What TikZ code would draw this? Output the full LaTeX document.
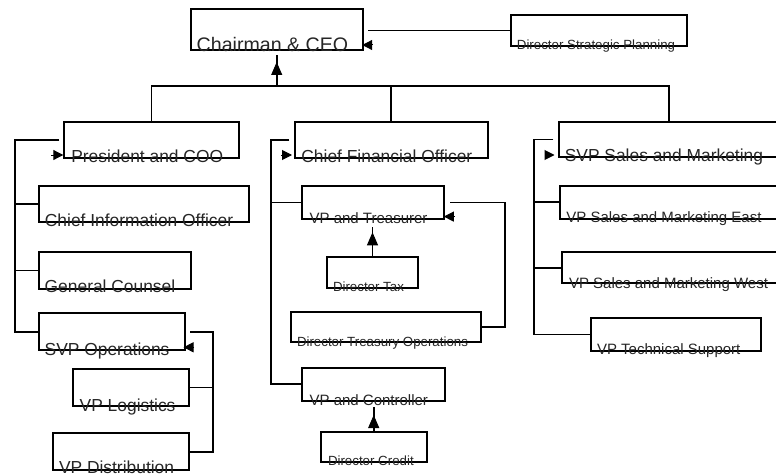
\documentclass[tikz,border=0pt]{standalone}
\usepackage{fontspec}
\setmainfont{Liberation Sans}
\usetikzlibrary{arrows.meta,calc}
\begin{document}
\begin{tikzpicture}[x=1pt,y=-1pt,
  box/.style={draw,line width=1.9pt,rectangle,inner sep=0pt,outer sep=0pt,anchor=north west},
  conn/.style={line width=1.9pt},
  tipH/.style={line width=1pt,-{Triangle[length=10pt,width=10pt]}},
  tipV/.style={line width=1pt,-{Triangle[length=13pt,width=11pt]}},
  lbl/.style={anchor=base west,inner sep=0pt,outer sep=0pt,text=black!85},
  fA/.style={font=\fontsize{19.6}{22}\selectfont},
  fB/.style={font=\fontsize{17.4}{20}\selectfont},
  fC/.style={font=\fontsize{15}{17}\selectfont},
  fD/.style={font=\fontsize{13.3}{15}\selectfont}]
\useasboundingbox (0,0) rectangle (776,476);
\clip (0,0) rectangle (776,476);
% boxes
\node[box,minimum width=172pt,minimum height=40.7pt] (ceo) at (190.7,9.3) {};
\node[box,minimum width=176pt,minimum height=30.4pt] (dsp) at (510.7,15.3) {};
\node[box,minimum width=174.4pt,minimum height=36pt] (pres) at (64.3,121.7) {};
\node[box,minimum width=210pt,minimum height=36.3pt] (cio) at (38.7,186) {};
\node[box,minimum width=152.3pt,minimum height=37.6pt] (gc) at (38.7,251.7) {};
\node[box,minimum width=146.3pt,minimum height=36.7pt] (svpo) at (38.7,313.3) {};
\node[box,minimum width=116.3pt,minimum height=36.4pt] (log) at (72.7,369.3) {};
\node[box,minimum width=136.3pt,minimum height=36.7pt] (dist) at (52.7,433.3) {};
\node[box,minimum width=192.7pt,minimum height=36pt] (cfo) at (295,121.7) {};
\node[box,minimum width=142pt,minimum height=33.6pt] (treas) at (302.3,185.7) {};
\node[box,minimum width=91.6pt,minimum height=30.4pt] (tax) at (326.7,257.3) {};
\node[box,minimum width=190pt,minimum height=29.4pt] (dto) at (290.7,312.3) {};
\node[box,minimum width=142.7pt,minimum height=33.3pt] (ctrl) at (302.3,367.7) {};
\node[box,minimum width=106pt,minimum height=30pt] (cred) at (320.7,431.7) {};
\node[box,minimum width=220pt,minimum height=35.6pt] (svps) at (559,121.7) {};
\node[box,minimum width=225pt,minimum height=33.3pt] (east) at (560,185.7) {};
\node[box,minimum width=225pt,minimum height=31pt] (west) at (562.3,252.3) {};
\node[box,minimum width=170pt,minimum height=32.4pt] (tech) at (590.7,318.3) {};
% labels
\node[lbl,fA] (ceo-t) at ([shift={(6,1.7)}]ceo.south west) {Chairman \& CEO};
\node[lbl,fD] (dsp-t) at ([shift={(6.2,3.6)}]dsp.south west) {Director Strategic Planning};
\node[lbl,fB] (pres-t) at ([shift={(7,5)}]pres.south west) {President and COO};
\node[lbl,fB] (cio-t) at ([shift={(6.2,4.4)}]cio.south west) {Chief Information Officer};
\node[lbl,fB] (gc-t) at ([shift={(6,3.4)}]gc.south west) {General Counsel};
\node[lbl,fB] (svpo-t) at ([shift={(6,5)}]svpo.south west) {SVP Operations};
\node[lbl,fB] (log-t) at ([shift={(7,5.3)}]log.south west) {VP Logistics};
\node[lbl,fB] (dist-t) at ([shift={(6.3,3)}]dist.south west) {VP Distribution};
\node[lbl,fB] (cfo-t) at ([shift={(6.4,5)}]cfo.south west) {Chief Financial Officer};
\node[lbl,fC] (treas-t) at ([shift={(7.3,4)}]treas.south west) {VP and Treasurer};
\node[lbl,fD] (tax-t) at ([shift={(6.3,4)}]tax.south west) {Director Tax};
\node[lbl,fD] (dto-t) at ([shift={(6.3,5)}]dto.south west) {Director Treasury Operations};
\node[lbl,fC] (ctrl-t) at ([shift={(7.3,4)}]ctrl.south west) {VP and Controller};
\node[lbl,fD] (cred-t) at ([shift={(7.3,3.3)}]cred.south west) {Director Credit};
\node[lbl,fB] (svps-t) at ([shift={(5.8,4.4)}]svps.south west) {SVP Sales and Marketing};
\node[lbl,fC] (east-t) at ([shift={(6.4,3.7)}]east.south west) {VP Sales and Marketing East};
\node[lbl,fC] (west-t) at ([shift={(6.7,5)}]west.south west) {VP Sales and Marketing West};
\node[lbl,fC] (tech-t) at ([shift={(6.3,3.3)}]tech.south west) {VP Technical Support};
% top level
\path (ceo.south) ++(0,36) coordinate (bus);
\draw[conn] (pres.north) |- (bus) -| (svps.north);
\draw[conn] (cfo.north) -- (cfo.north |- bus);
\draw[conn] (bus) -- ([shift={(0,5)}]ceo.south);
\draw[tipV] ([shift={(0,27)}]ceo.south) -- ([shift={(0,12)}]ceo.south);
\draw[conn] (dsp.west) -- ([xshift=5.3pt]ceo.east |- dsp.west);
\draw[tipH] ([shift={(10,-5)}]ceo.south east) -- ([shift={(-0.5,-5)}]ceo.south east);
% president group
\coordinate (pb) at ([xshift=-49.6pt]pres.west);
\draw[conn] ([xshift=-5pt]pres.west) -- (pb) |- (svpo.west);
\draw[conn] (cio.west) -- (cio.west -| pb);
\draw[conn] (gc.west) -- (gc.west -| pb);
\draw[tipH] ([shift={(-13,-2.7)}]pres.south west) -- ([shift={(-1,-2.7)}]pres.south west);
% SVP operations group
\coordinate (ob) at ([xshift=27.7pt]svpo.east);
\draw[conn] ([xshift=5pt]svpo.east) -- (ob) |- (dist.east);
\draw[conn] (log.east) -- (log.east -| ob);
\draw[tipH] ([shift={(9,-2.7)}]svpo.south east) -- ([shift={(-1.5,-2.7)}]svpo.south east);
% CFO group
\coordinate (fb) at ([xshift=-24pt]cfo.west);
\draw[conn] ([xshift=-5.7pt]cfo.west) -- (fb) |- (ctrl.west);
\draw[conn] (treas.west) -- (treas.west -| fb);
\draw[tipH] ([shift={(-14,-2.7)}]cfo.south west) -- ([shift={(-3,-2.7)}]cfo.south west);
% treasurer group
\coordinate (tb) at ([xshift=60.7pt]treas.east);
\draw[conn] ([xshift=5.7pt]treas.east) -- (tb) |- (dto.east);
\draw[tipH] ([shift={(9.5,-2.7)}]treas.south east) -- ([shift={(-0.5,-2.7)}]treas.south east);
\draw[conn] (tax.north) -- ($(tax.north |- treas.south)+(0,8)$);
\draw[tipV] ($(tax.north |- treas.south)+(0,27)$) -- ($(tax.north |- treas.south)+(0,13)$);
\draw[conn] (cred.north) -- ($(cred.north |- ctrl.south)+(0,6)$);
\draw[tipV] ($(cred.north |- ctrl.south)+(0,28)$) -- ($(cred.north |- ctrl.south)+(0,14)$);
% sales group
\coordinate (sb) at ([xshift=-24.7pt]svps.west);
\draw[conn] ([xshift=-5.7pt]svps.west) -- (sb) |- (tech.west);
\draw[conn] (east.west) -- (east.west -| sb);
\draw[conn] (west.west) -- (west.west -| sb);
\draw[tipH] ([shift={(-14,-2.3)}]svps.south west) -- ([shift={(-4.5,-2.3)}]svps.south west);
\end{tikzpicture}
\end{document}
